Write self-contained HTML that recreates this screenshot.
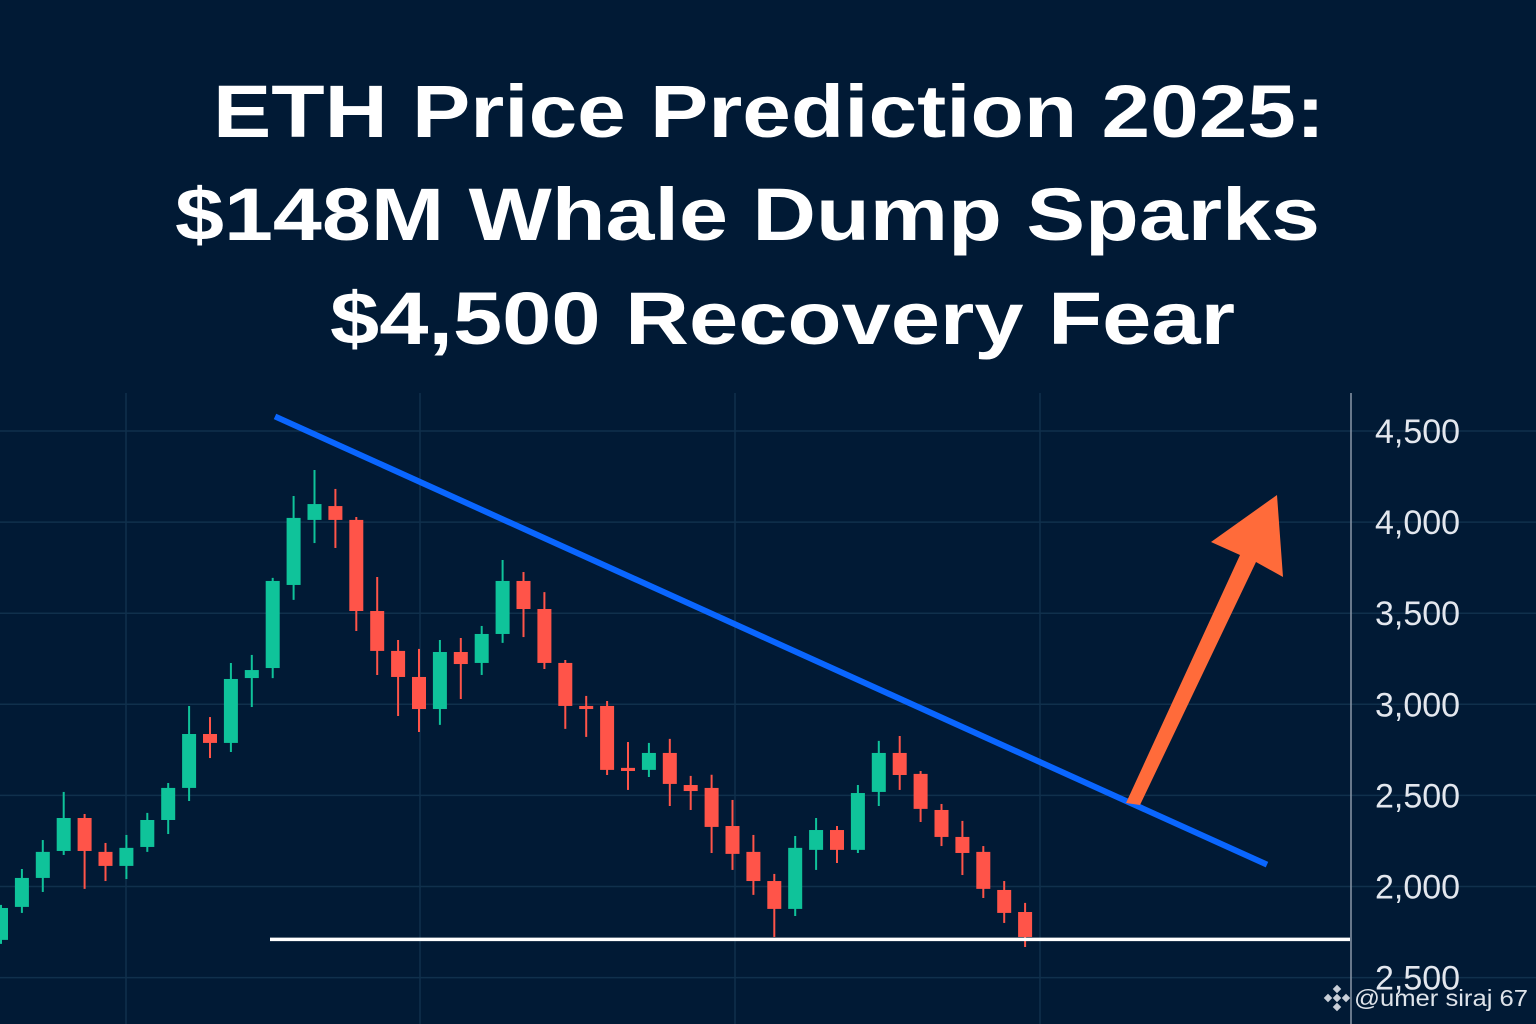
<!DOCTYPE html>
<html><head><meta charset="utf-8"><style>
html,body{margin:0;padding:0;background:#011a35;}
svg{display:block;}
</style></head><body>
<svg id="chart" width="1536" height="1024" viewBox="0 0 1536 1024" xmlns="http://www.w3.org/2000/svg" style="font-family:'Liberation Sans',sans-serif">
<rect width="1536" height="1024" fill="#011a35"/>
<g id="grid"></g>
<g fill="#ffffff" font-weight="bold" font-size="74">
<text x="213" y="137" textLength="1112" lengthAdjust="spacingAndGlyphs">ETH Price Prediction 2025:</text>
<text x="175" y="240" textLength="1145" lengthAdjust="spacingAndGlyphs">$148M Whale Dump Sparks</text>
<text x="330" y="344" textLength="905" lengthAdjust="spacingAndGlyphs">$4,500 Recovery Fear</text>
</g>
<line x1="1351" y1="393" x2="1351" y2="1024" stroke="#8a97a8" stroke-width="1.5"/>
<g id="ticks"></g>
<g id="candles"></g>
<g id="lines"></g>
<g>
<g transform="translate(1337,998)" fill="#c9cfd8">
<rect x="-3" y="-3" width="6" height="6" transform="rotate(45)"/>
<rect x="-3" y="-12" width="6" height="6" transform="rotate(45 0 -9)"/>
<rect x="-3" y="6" width="6" height="6" transform="rotate(45 0 9)"/>
<rect x="-12" y="-3" width="6" height="6" transform="rotate(45 -9 0)"/>
<rect x="6" y="-3" width="6" height="6" transform="rotate(45 9 0)"/>
</g>
<text x="1354" y="1006" font-size="23" fill="#dfe4ea" textLength="174" lengthAdjust="spacingAndGlyphs">@umer siraj 67</text>
</g>
</svg>
<script>
const tickValues = [4500, 4000, 3500, 3000, 2500, 2000, 1500];
const tickLabels = ["4,500", "4,000", "3,500", "3,000", "2,500", "2,000", "2,500"];
const opens  = [1707,1888,2047,2195,2376,2190,2113,2217,2365,2541,2837,2788,3144,3199,3655,4012,4088,4012,3512,3293,3150,2974,3287,3227,3386,3677,3523,3227,2991,2991,2651,2640,2733,2557,2541,2332,2190,2030,1877,2201,2310,2201,2519,2733,2618,2420,2272,2190,1981,1860];
const highs  = [1899,2096,2255,2519,2398,2239,2283,2404,2568,2991,2930,3227,3271,3694,4143,4286,4182,4028,3699,3353,3304,3353,3364,3430,3792,3726,3616,3243,3046,3018,2793,2788,2810,2607,2613,2475,2283,2069,2277,2376,2332,2557,2799,2826,2634,2453,2360,2222,2030,1910];
const lows   = [1685,1855,1970,2173,1987,2030,2041,2190,2288,2469,2705,2738,2985,3144,3573,3885,3858,3402,3161,2936,2848,2887,3029,3161,3337,3369,3194,2865,2821,2612,2530,2601,2442,2420,2184,2091,1954,1723,1838,2091,2129,2184,2442,2530,2354,2222,2063,1937,1800,1668];
const closes = [1882,2047,2190,2376,2195,2113,2212,2365,2541,2837,2788,3139,3188,3677,4023,4099,4012,3512,3293,3150,2974,3287,3221,3386,3677,3523,3227,2991,2974,2640,2634,2733,2563,2524,2327,2179,2030,1877,2212,2310,2201,2513,2733,2612,2426,2272,2184,1987,1855,1723];
const trendline = [4580, 2120];   // start/end values of resistance line
const supportValue = 1710;

const NS = "http://www.w3.org/2000/svg";
function yScale(v){ return 431 + (4500 - v) * 0.1822; }
function xScale(i){ return 1 + i * 20.9; }
function mk(tag, attrs, parent){ const e=document.createElementNS(NS,tag); for(const k in attrs) e.setAttribute(k, attrs[k]); parent.appendChild(e); return e; }

const grid = document.getElementById('grid');
[126, 420, 735, 1040].forEach(x=>{
  const l = mk('line',{x1:x,y1:393,x2:x,y2:1024,stroke:'#10304c','stroke-width':1.5},grid);
  
  
});
const ticks = document.getElementById('ticks');
tickValues.forEach((v,i)=>{
  const y = yScale(v);
  const l = mk('line',{x1:0,y1:y,x2:1536,y2:y,stroke:'#10304c','stroke-width':1.5},grid);
  
  
  const t = mk('text',{x:1375,y:y+12,'font-size':34,fill:'#e3e7ee'},ticks);
  t.textContent = tickLabels[i];
  
  
});

const cg = document.getElementById('candles');
opens.forEach((o,i)=>{
  const c = closes[i], h = highs[i], lo = lows[i];
  const col = c >= o ? '#0fc39a' : '#ff5449';
  const x = xScale(i);
  const g = mk('g',{},cg);
  
  
  mk('line',{x1:x,y1:yScale(h),x2:x,y2:yScale(lo),stroke:col,'stroke-width':2},g);
  const top = yScale(Math.max(o,c)), bot = yScale(Math.min(o,c));
  mk('rect',{x:x-7,y:top,width:14,height:Math.max(3,bot-top),fill:col},g);
});

const lg = document.getElementById('lines');
const sup = mk('line',{x1:270,y1:yScale(supportValue),x2:1350,y2:yScale(supportValue),stroke:'#ffffff','stroke-width':3.5},lg);


const tr = mk('line',{x1:275,y1:yScale(trendline[0]),x2:1267,y2:yScale(trendline[1]),stroke:'#0a66ff','stroke-width':6},lg);


const arrow = mk('polygon',{points:'1126,803 1140,805 1256,562 1283,577 1277,495 1211,542 1240,555',fill:'#ff6b3a'},lg);


</script>
</body></html>
